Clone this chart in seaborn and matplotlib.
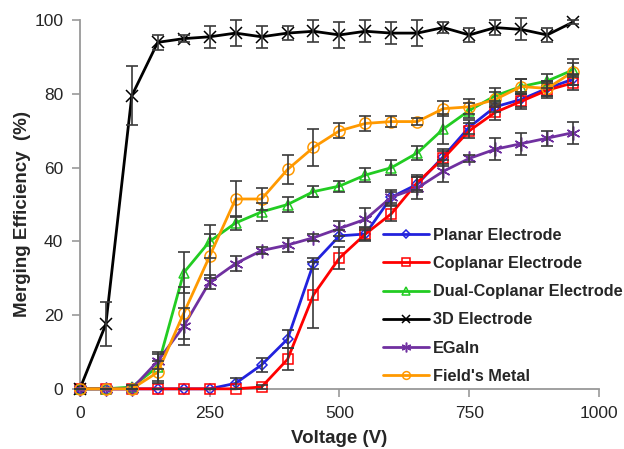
import numpy as np
import pandas as pd
import matplotlib
matplotlib.use("Agg")
import matplotlib.pyplot as plt
import seaborn as sns

voltage = list(range(0, 1000, 50))

planar = [0, 0, 0, 0, 0, 0, 1.5, 6.5, 13.5, 34, 41.5, 42, 52, 55.5, 63, 71, 76.5, 78.5, 81.5, 84]
planar_err = [0, 0, 0, 0, 0, 0, 1.5, 2, 2.5, 1.5, 1.5, 1.5, 1.5, 2, 2, 2, 1.5, 2, 2, 1.5]

coplanar = [0, 0, 0, 0, 0, 0, 0, 0.5, 8, 25.5, 35.5, 42, 47.5, 56, 62.5, 70, 75, 78, 81, 83]
coplanar_err = [0, 0, 0, 0, 0, 0, 0, 0.5, 3, 9, 3, 2, 2, 2, 2, 2, 2, 2, 2, 2]

dual = [0, 0, 0.5, 6, 31.5, 40, 45, 48, 50, 53.5, 55, 58, 60, 64, 70.5, 75.5, 79.5, 82, 83.5, 86.5]
dual_err = [0, 0, 0.5, 4, 5.5, 4.5, 2, 2.5, 2, 1.5, 1.5, 2, 2, 2, 4, 2, 2, 2, 2, 2]

electrode_3d = [0, 17.5, 79.5, 94, 95, 95.5, 96.5, 95.5, 96.5, 97, 96, 97, 96.5, 96.5, 98, 96, 98, 97.5, 96, 99.5]
electrode_3d_err = [0, 6, 8, 2, 1, 3, 3.5, 3, 2, 3, 3.5, 3, 3, 3.5, 1.5, 2, 2, 3, 2, 0.5]

egain = [0, 0, 0, 7.5, 17, 29, 34, 37.5, 39, 41, 43.5, 46, 52, 54.5, 59, 62.5, 65, 66.5, 68, 69.5]
egain_err = [0, 0, 0, 2, 5, 2, 2, 1, 2, 1, 2, 3, 2, 3, 3, 1, 3, 3, 2, 3]

fields = [0, 0, 0, 4.5, 20.5, 36, 51.5, 51.5, 59.5, 65.5, 70, 72, 72.5, 72.5, 76, 76.5, 78.5, 82, 81.5, 86]
fields_err = [0, 0, 0, 3, 7, 6, 5, 3, 4, 5, 2, 2, 1.5, 1, 2, 2, 2, 2, 2, 3.5]

names = ["Planar Electrode", "Coplanar Electrode", "Dual-Coplanar Electrode",
         "3D Electrode", "EGaln", "Field's Metal"]
values = [planar, coplanar, dual, electrode_3d, egain, fields]
errors = [planar_err, coplanar_err, dual_err, electrode_3d_err, egain_err, fields_err]
colors = ["#2222dd", "#ff0000", "#22cc22", "#000000", "#7030a0", "#ff9900"]
markers = ["D", "s", "^", "x", (6, 2, 0), "o"]
msizes = [5.5, 7.5, 7.5, 9, 10, 8]

sns.set_style("white")
plt.rcParams["font.family"] = ["Liberation Sans", "DejaVu Sans"]

fig = plt.figure(figsize=(6.24, 4.49), dpi=100)
ax = fig.add_axes([0.128, 0.134, 0.832, 0.821])

for name, vals, err, col, mk, ms in zip(names, values, errors, colors, markers, msizes):
    df = pd.DataFrame({"Voltage": voltage, "Efficiency": vals})
    sns.lineplot(data=df, x="Voltage", y="Efficiency", ax=ax, color=col, lw=2,
                 marker=mk, markersize=ms, markerfacecolor="none",
                 markeredgecolor=col, markeredgewidth=1.1, label=name,
                 clip_on=False, zorder=3)
    ax.errorbar(voltage, vals, yerr=err, fmt="none", ecolor="#3a3a3a",
                elinewidth=1.2, capsize=4, capthick=1.2, zorder=4, clip_on=False)

ax.set_xlim(0, 1000)
ax.set_ylim(0, 100)
ax.set_xticks([0, 250, 500, 750, 1000])
ax.set_yticks([0, 20, 40, 60, 80, 100])
for s in ["top", "right"]:
    ax.spines[s].set_visible(False)
for s in ["left", "bottom"]:
    ax.spines[s].set_color("#999999")
    ax.spines[s].set_linewidth(1.3)
ax.tick_params(axis="both", direction="out", length=6, width=1.2, color="#999999",
               labelsize=12.5, pad=6, left=True, bottom=True)
ax.set_xlabel("Voltage (V)", fontsize=13.5, fontweight="bold", labelpad=7)
ax.set_ylabel("Merging Efficiency  (%)", fontsize=13.5, fontweight="bold")
ax.yaxis.set_label_coords(-0.094, 0.473)

leg = ax.legend(loc="upper left", bbox_to_anchor=(383 / 624, 1 - 228 / 449),
                bbox_transform=fig.transFigure, frameon=False, fontsize=11.7,
                handlelength=2.8, handletextpad=0.3, labelspacing=0.81,
                borderaxespad=0, borderpad=0)
for t in leg.get_texts():
    t.set_fontweight("bold")
for h, ms in zip(leg.legend_handles, msizes):
    h.set_markersize(ms * 0.7)

fig.savefig("out.png", dpi=100)
